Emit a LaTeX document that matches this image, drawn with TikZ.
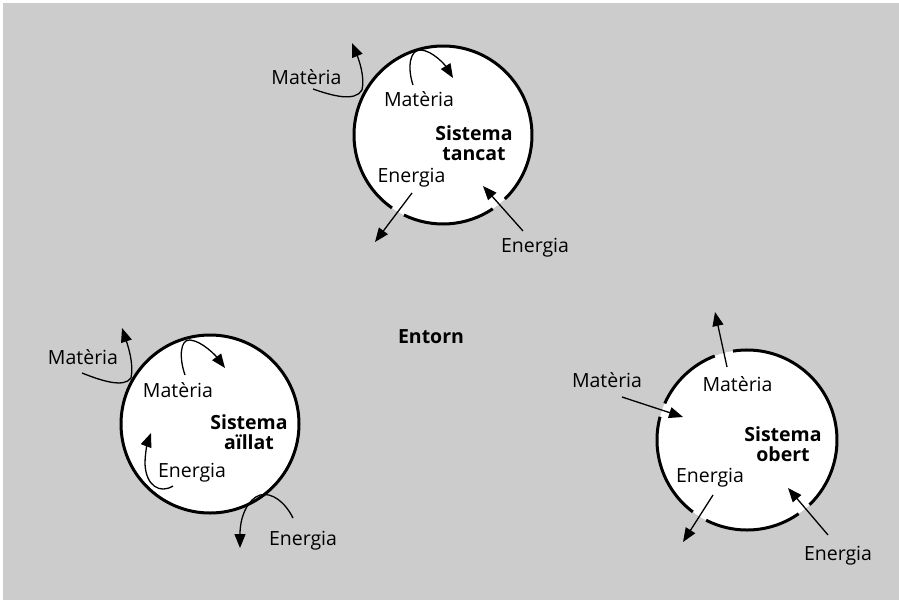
\documentclass[tikz,border=0pt]{standalone}
\usepackage{fontspec}
\setmainfont{Open Sans}
\usetikzlibrary{arrows.meta}
\definecolor{envgray}{RGB}{204,204,204}
\tikzset{
  lbl/.style={font=\fontsize{19.5}{22}\selectfont, inner sep=0pt, anchor=base},
  syslbl/.style={font=\bfseries\fontsize{19.5}{19.5}\selectfont, inner sep=0pt, align=center, anchor=base},
  flow/.style={line width=1.3pt, -{Triangle[length=14pt,width=11pt]}},
  rim/.style={line width=3pt},
  disc/.style={fill=white},
}
\begin{document}
\begin{tikzpicture}[x=1pt,y=-1pt]
\useasboundingbox (0,0) rectangle (899,600);
\fill[white] (0,0) rectangle (899,600);
\fill[envgray] (3,3) rectangle (899,600);

\node[syslbl] (entorn) at (431,343) {Entorn};

% ---------- closed system ----------
\begin{scope}[shift={(443,135)}]
  \coordinate (tc) at (0,0);
  \fill[disc] (tc) circle[radius=89];
  \draw[rim] (56:89) arc[start angle=56, end angle=116, radius=89];
  \draw[rim] (125:89) arc[start angle=125, end angle=406, radius=89];
  % matter bounces off the wall, both sides
  \coordinate (tMoA) at (-130,-46);
  \coordinate (tMoB) at (-81,-45);
  \coordinate (tMoC) at (-91,-92);
  \draw[flow] (tMoA) .. controls (-110,-39) and (-88,-33) .. (tMoB)
                     .. controls (-78,-58) and (-84,-75) .. (tMoC);
  \coordinate (tMiA) at (-30,-50);
  \coordinate (tMiB) at (-22,-85);
  \coordinate (tMiC) at (10,-57);
  \draw[flow] (tMiA) .. controls (-36,-68) and (-33,-86) .. (tMiB)
                     .. controls (-10,-84) and (2,-70) .. (tMiC);
  % energy crosses the wall
  \coordinate (tEoA) at (-31,58);
  \coordinate (tEoB) at (-68,107);
  \draw[flow] (tEoA) -- (tEoB);
  \coordinate (tEiA) at (80,96);
  \coordinate (tEiB) at (40,51);
  \draw[flow] (tEiA) -- (tEiB);
  \node[lbl] (tMout) at (-136.5,-51) {Matèria};
  \node[lbl] (tMin) at (-24,-29) {Matèria};
  \node[syslbl] (tsys) at (31,25) {Sistema\\tancat};
  \node[lbl] (tEin) at (-31.5,47) {Energia};
  \node[lbl] (tEout) at (92,117) {Energia};
\end{scope}

% ---------- isolated system ----------
\begin{scope}[shift={(210,424)}]
  \coordinate (ac) at (0,0);
  \fill[disc] (ac) circle[radius=89];
  \draw[rim] (ac) circle[radius=89];
  \coordinate (aMoA) at (-128,-51);
  \coordinate (aMoB) at (-79,-46);
  \coordinate (aMoC) at (-88,-96);
  \draw[flow] (aMoA) .. controls (-108,-43) and (-86,-36) .. (aMoB)
                     .. controls (-76,-60) and (-82,-78) .. (aMoC);
  \coordinate (aMiA) at (-25,-49);
  \coordinate (aMiB) at (-20,-84);
  \coordinate (aMiC) at (15,-56);
  \draw[flow] (aMiA) .. controls (-31,-66) and (-30,-85) .. (aMiB)
                     .. controls (-8,-83) and (6,-68) .. (aMiC);
  \coordinate (aEiA) at (-37,62);
  \coordinate (aEiB) at (-65,40);
  \coordinate (aEiC) at (-59,9);
  \draw[flow] (aEiA) .. controls (-50,70) and (-64,62) .. (aEiB)
                     .. controls (-65,28) and (-62,17) .. (aEiC);
  \coordinate (aEoA) at (83,94);
  \coordinate (aEoB) at (50,71);
  \coordinate (aEoC) at (30,124);
  \draw[flow] (aEoA) .. controls (75,78) and (62,68) .. (aEoB)
                     .. controls (38,75) and (30,92) .. (aEoC);
  \node[lbl] (aMout) at (-127,-60) {Matèria};
  \node[lbl] (aMin) at (-32,-27) {Matèria};
  \node[syslbl] (asys) at (39,25) {Sistema\\aïllat};
  \node[lbl] (aEin) at (-18,53) {Energia};
  \node[lbl] (aEout) at (93,121) {Energia};
\end{scope}

% ---------- open system ----------
\begin{scope}[shift={(747,440)}]
  \coordinate (oc) at (0,0);
  \fill[disc] (oc) circle[radius=90];
  \draw[rim] (55:90) arc[start angle=55, end angle=117, radius=90];
  \draw[rim] (127:90) arc[start angle=127, end angle=195, radius=90];
  \draw[rim] (204:90) arc[start angle=204, end angle=249, radius=90];
  \draw[rim] (261:90) arc[start angle=261, end angle=406, radius=90];
  \coordinate (oMoA) at (-20,-73);
  \coordinate (oMoB) at (-32,-128);
  \draw[flow] (oMoA) -- (oMoB);
  \coordinate (oMiA) at (-125,-43);
  \coordinate (oMiB) at (-64,-23);
  \draw[flow] (oMiA) -- (oMiB);
  \coordinate (oEoA) at (-34,55);
  \coordinate (oEoB) at (-64,102);
  \draw[flow] (oEoA) -- (oEoB);
  \coordinate (oEiA) at (81,95);
  \coordinate (oEiB) at (41,48);
  \draw[flow] (oEiA) -- (oEiB);
  \node[lbl] (oMout) at (-140,-53) {Matèria};
  \node[lbl] (oMin) at (-9.5,-49) {Matèria};
  \node[syslbl] (osys) at (36,21) {Sistema\\obert};
  \node[lbl] (oEin) at (-37,42) {Energia};
  \node[lbl] (oEout) at (91,120) {Energia};
\end{scope}
\end{tikzpicture}
\end{document}
